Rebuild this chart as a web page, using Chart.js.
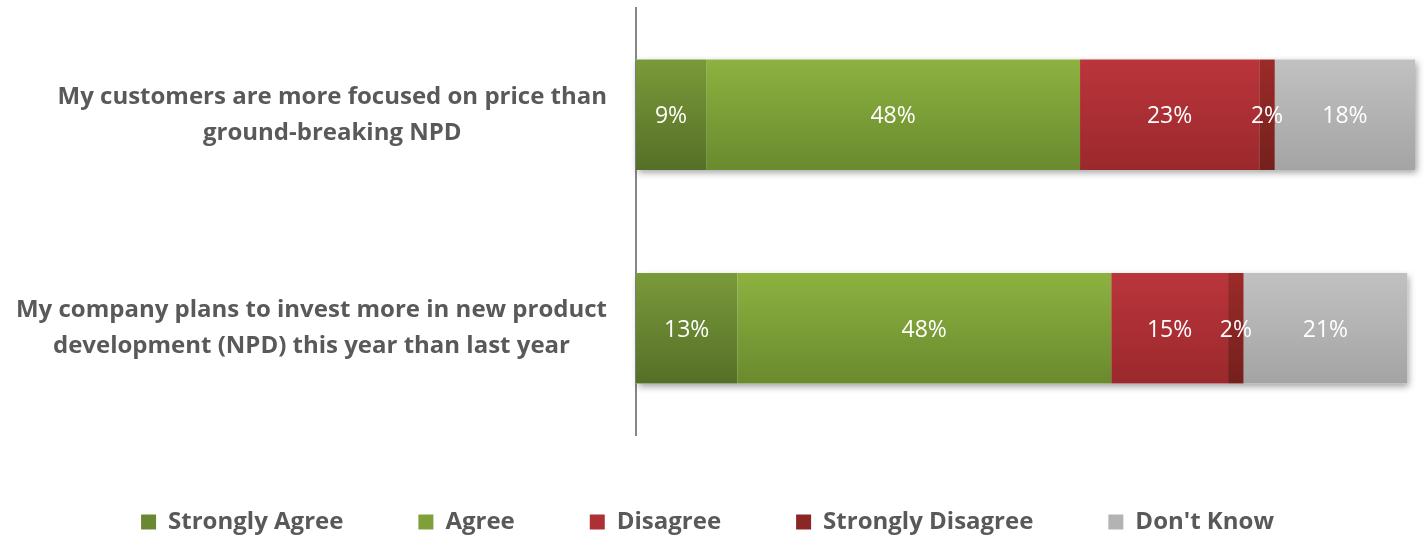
<!DOCTYPE html>
<html>
<head>
<meta charset="utf-8">
<script src="https://cdn.jsdelivr.net/npm/chart.js@4"></script>
<style>
  html, body { margin: 0; padding: 0; background: #ffffff; }
  #wrap { width: 1424px; height: 537px; }
</style>
</head>
<body>
<div id="wrap"><canvas id="chart" width="1424" height="537"></canvas></div>
<script>
// Survey statements (each entry is a list of display lines)
const statements = [
  ["My customers are more focused on price than", "ground-breaking NPD"],
  ["My company plans to invest more in new product", "development (NPD) this year than last year"]
];

// Response categories, in stacking order
const responses = ["Strongly Agree", "Agree", "Disagree", "Strongly Disagree", "Don't Know"];

// Share of respondents (%) per statement
const stronglyAgree    = [9, 13];
const agree            = [48, 48];
const disagree         = [23, 15];
const stronglyDisagree = [2, 2];
const dontKnow         = [18, 21];

// Gradient colours per response: [top, bottom]
const shades = [
  ["#799a39", "#566f28"],
  ["#8db240", "#6a8a2e"],
  ["#ba353c", "#9b292c"],
  ["#9b2b29", "#74201d"],
  ["#c1c1c1", "#a4a4a4"]
];
const legendFill = ["#6a8832", "#7fa038", "#ad3036", "#8a2624", "#b3b3b3"];

const FONT = "'Open Sans', 'Noto Sans', sans-serif";
const TEXT_GREY = "#595959";

function gradientFor(idx) {
  return function (ctx) {
    const chart = ctx.chart;
    const yScale = chart.scales.y;
    if (!yScale || ctx.type !== "data") return shades[idx][0];
    const meta = chart.getDatasetMeta(ctx.datasetIndex);
    const el = meta.data[ctx.dataIndex];
    const cy = yScale.getPixelForValue(ctx.dataIndex);
    const half = el && el.height ? el.height / 2 : 55;
    const g = chart.ctx.createLinearGradient(0, cy - half, 0, cy + half);
    g.addColorStop(0, shades[idx][0]);
    g.addColorStop(1, shades[idx][1]);
    return g;
  };
}

const seriesValues = [stronglyAgree, agree, disagree, stronglyDisagree, dontKnow];
const datasets = responses.map((name, i) => ({
  label: name,
  data: seriesValues[i],
  backgroundColor: gradientFor(i),
  borderWidth: 0,
  categoryPercentage: 0.518,
  barPercentage: 1.0
}));

// Soft drop shadow under each full stacked bar
const stackShadow = {
  id: "stackShadow",
  beforeDatasetsDraw(chart) {
    const ctx = chart.ctx;
    const metas = chart.getSortedVisibleDatasetMetas();
    if (!metas.length) return;
    const n = metas[0].data.length;
    for (let j = 0; j < n; j++) {
      let left = Infinity, right = -Infinity, top = 0, bottom = 0;
      metas.forEach(m => {
        const b = m.data[j];
        if (!b) return;
        const p = b.getProps(["x", "y", "base", "height"], true);
        left = Math.min(left, p.base, p.x);
        right = Math.max(right, p.base, p.x);
        top = p.y - p.height / 2;
        bottom = p.y + p.height / 2;
      });
      ctx.save();
      ctx.shadowColor = "rgba(0,0,0,0.38)";
      ctx.shadowBlur = 7;
      ctx.shadowOffsetX = 2;
      ctx.shadowOffsetY = 3;
      ctx.fillStyle = "#ffffff";
      ctx.fillRect(left, top, right - left, bottom - top);
      ctx.restore();
    }
  }
};

// Percentage labels centred on each segment
const segmentLabels = {
  id: "segmentLabels",
  afterDatasetsDraw(chart) {
    const ctx = chart.ctx;
    ctx.save();
    ctx.font = "23px " + FONT;
    ctx.fillStyle = "#ffffff";
    ctx.textAlign = "center";
    ctx.textBaseline = "middle";
    chart.data.datasets.forEach((ds, i) => {
      const meta = chart.getDatasetMeta(i);
      meta.data.forEach((bar, j) => {
        const p = bar.getProps(["x", "y", "base"], true);
        ctx.fillText(ds.data[j] + "%", (p.x + p.base) / 2, p.y + 2);
      });
    });
    ctx.restore();
  }
};

// Multi-line statement labels: block right-aligned to the axis, lines centred in the block
const statementLabels = {
  id: "statementLabels",
  afterDraw(chart) {
    const ctx = chart.ctx;
    const yScale = chart.scales.y;
    const lineH = 36;
    ctx.save();
    ctx.font = "bold 24px " + FONT;
    ctx.fillStyle = TEXT_GREY;
    ctx.textAlign = "center";
    ctx.textBaseline = "middle";
    statements.forEach((lines, i) => {
      const blockW = Math.max(...lines.map(l => ctx.measureText(l).width));
      const blockRight = chart.chartArea.left - 29;
      const cx = blockRight - blockW / 2;
      const cy = yScale.getPixelForValue(i);
      const y0 = cy - (lines.length - 1) * lineH / 2;
      lines.forEach((l, k) => ctx.fillText(l, cx, y0 + k * lineH));
    });
    ctx.restore();
  }
};

new Chart(document.getElementById("chart"), {
  type: "bar",
  data: { labels: statements, datasets },
  plugins: [stackShadow, segmentLabels, statementLabels],
  options: {
    indexAxis: "y",
    responsive: false,
    animation: false,
    layout: { padding: { top: 8, right: 9, left: 0, bottom: 0 } },
    scales: {
      x: {
        stacked: true,
        min: 0,
        max: 100,
        display: false
      },
      y: {
        stacked: true,
        grid: { display: false, drawTicks: false },
        border: { display: true, color: "#878787", width: 2 },
        ticks: { display: false },
        afterFit(scale) { scale.width = 636; }
      }
    },
    plugins: {
      tooltip: { enabled: false },
      legend: {
        position: "bottom",
        maxHeight: 102,
        labels: {
          boxWidth: 15,
          boxHeight: 15,
          padding: 75,
          color: TEXT_GREY,
          font: { family: FONT, size: 24, weight: "bold" },
          generateLabels(chart) {
            return chart.data.datasets.map((ds, i) => ({
              text: ds.label,
              fillStyle: legendFill[i],
              strokeStyle: legendFill[i],
              lineWidth: 0,
              fontColor: TEXT_GREY,
              hidden: false,
              datasetIndex: i
            }));
          }
        }
      }
    }
  }
});
</script>
</body>
</html>
